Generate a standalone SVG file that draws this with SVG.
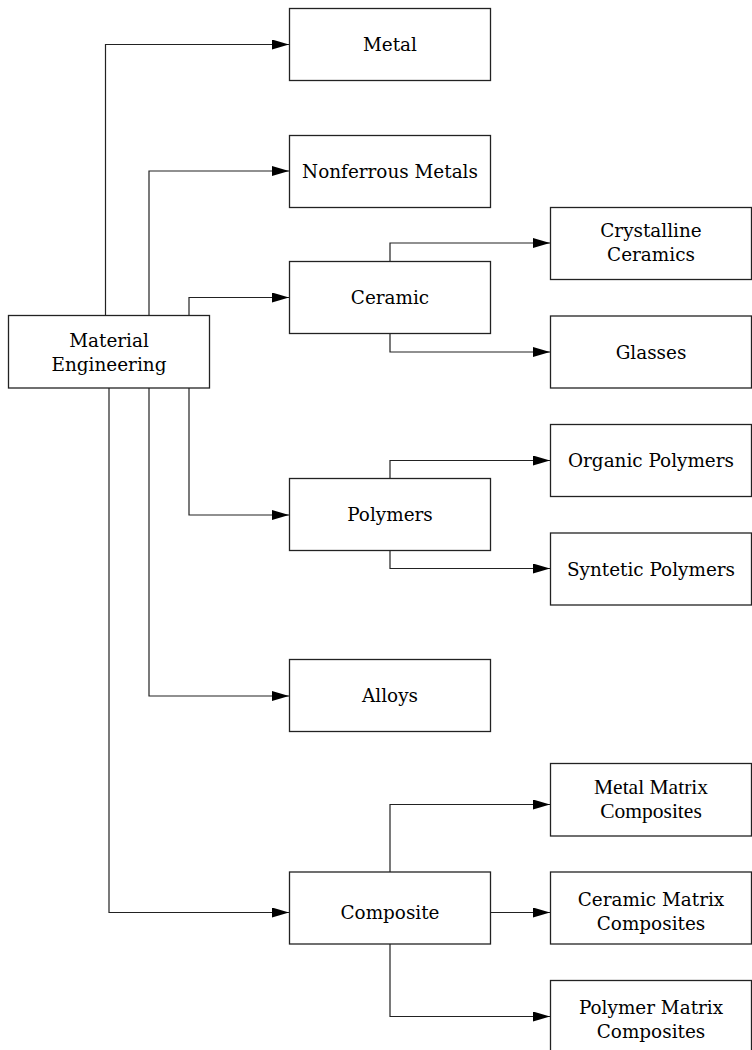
<svg xmlns="http://www.w3.org/2000/svg" width="752" height="1050" viewBox="0 0 752 1050">
<style>
.box{fill:#fff;stroke:#222;stroke-width:1.3}
.lbl{font-family:"DejaVu Serif","Liberation Serif",serif;font-size:18.4px;fill:#000;text-anchor:middle}
.tnr{font-family:"Liberation Serif",serif;font-size:21.5px;fill:#000;text-anchor:middle}
.con{fill:none;stroke:#222;stroke-width:1.2}
</style>
<defs>
<marker id="ah" markerWidth="17" markerHeight="10" refX="17" refY="5" orient="auto" markerUnits="userSpaceOnUse">
<path d="M0,0 L17,5 L0,10 Z" fill="#000"/>
</marker>
</defs>
<rect width="752" height="1050" fill="#fff"/>
<g id="connectors">
<path class="con" d="M105.5,315.5 V44.5 H289" marker-end="url(#ah)"/>
<path class="con" d="M149,315.5 V171 H289" marker-end="url(#ah)"/>
<path class="con" d="M189,315.5 V297.5 H289" marker-end="url(#ah)"/>
<path class="con" d="M189,388 V515 H289" marker-end="url(#ah)"/>
<path class="con" d="M149,388 V696 H289" marker-end="url(#ah)"/>
<path class="con" d="M109,388 V912.5 H289" marker-end="url(#ah)"/>
<path class="con" d="M390,261.5 V243 H550" marker-end="url(#ah)"/>
<path class="con" d="M390,333.5 V352 H550" marker-end="url(#ah)"/>
<path class="con" d="M390,478.5 V460.5 H550" marker-end="url(#ah)"/>
<path class="con" d="M390,550.5 V568.5 H550" marker-end="url(#ah)"/>
<path class="con" d="M390,872 V804.5 H550" marker-end="url(#ah)"/>
<path class="con" d="M490,912.5 H550" marker-end="url(#ah)"/>
<path class="con" d="M390,944 V1016.5 H550" marker-end="url(#ah)"/>
</g>
<g id="material-engineering"><rect class="box" x="8.5" y="315.5" width="201" height="72.5"/><text class="lbl" x="109" y="346.5">Material</text><text class="lbl" x="109" y="370.5">Engineering</text></g>
<g id="metal"><rect class="box" x="289.5" y="8.5" width="201" height="72"/><text class="lbl" x="390" y="51">Metal</text></g>
<g id="nonferrous"><rect class="box" x="289.5" y="135.5" width="201" height="72"/><text class="lbl" x="390" y="178">Nonferrous Metals</text></g>
<g id="ceramic"><rect class="box" x="289.5" y="261.5" width="201" height="72"/><text class="lbl" x="390" y="304">Ceramic</text></g>
<g id="polymers"><rect class="box" x="289.5" y="478.5" width="201" height="72"/><text class="lbl" x="390" y="521">Polymers</text></g>
<g id="alloys"><rect class="box" x="289.5" y="659.5" width="201" height="72"/><text class="lbl" x="390" y="702">Alloys</text></g>
<g id="composite"><rect class="box" x="289.5" y="872" width="201" height="72"/><text class="lbl" x="390" y="919">Composite</text></g>
<g id="crystalline"><rect class="box" x="550.5" y="207.5" width="201" height="72"/><text class="lbl" x="651" y="237">Crystalline</text><text class="lbl" x="651" y="261">Ceramics</text></g>
<g id="glasses"><rect class="box" x="550.5" y="316" width="201" height="72"/><text class="lbl" x="651" y="358.5">Glasses</text></g>
<g id="organic"><rect class="box" x="550.5" y="424.5" width="201" height="72"/><text class="lbl" x="651" y="467">Organic Polymers</text></g>
<g id="syntetic"><rect class="box" x="550.5" y="533" width="201" height="72"/><text class="lbl" x="651" y="575.5">Syntetic Polymers</text></g>
<g id="metal-matrix"><rect class="box" x="550.5" y="763.5" width="201" height="72.5"/><text class="tnr" x="651" y="793.5">Metal Matrix</text><text class="tnr" x="651" y="818">Composites</text></g>
<g id="ceramic-matrix"><rect class="box" x="550.5" y="872" width="201" height="72"/><text class="lbl" x="651" y="906">Ceramic Matrix</text><text class="lbl" x="651" y="930">Composites</text></g>
<g id="polymer-matrix"><rect class="box" x="550.5" y="980.5" width="201" height="80"/><text class="lbl" x="651" y="1014">Polymer Matrix</text><text class="lbl" x="651" y="1038">Composites</text></g>
</svg>
